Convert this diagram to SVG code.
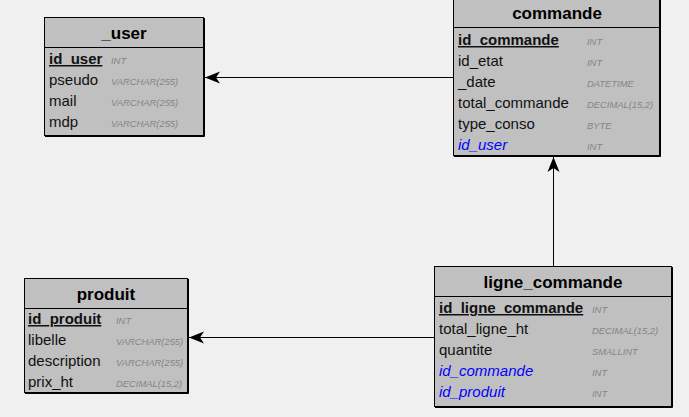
<svg xmlns="http://www.w3.org/2000/svg" width="689" height="417" viewBox="0 0 689 417">
<style>
.bg{fill:#f0f0f0}
.box{fill:#c0c0c0;stroke:#000;stroke-width:1}
.sh{fill:none;stroke:#000;stroke-width:1}
.hd{stroke:#000;stroke-width:1}
.title{font-family:"Liberation Sans",Arial,sans-serif;font-weight:bold;font-size:17px;fill:#000;text-anchor:middle}
.f{font-family:"Liberation Sans",Arial,sans-serif;font-size:15px;fill:#111}
.pk{font-weight:bold;text-decoration:underline}
.fk{fill:#0000ff;font-style:italic}
.t{font-family:"Liberation Sans",Arial,sans-serif;font-size:9.4px;font-style:italic;fill:#858585}
.c{stroke:#000;stroke-width:1;fill:none;marker-end:url(#ah)}
</style>
<defs>
<marker id="ah" markerUnits="userSpaceOnUse" viewBox="-16 -7 17 14" markerWidth="17" markerHeight="14" refX="0" refY="0" orient="auto" overflow="visible">
<path d="M0,0 L-15,-6 L-11,0 L-15,6 Z" fill="#000"/>
</marker>
</defs>
<rect class="bg" x="0" y="0" width="689" height="417"/>
<g id="connectors">
<line class="c" x1="453" y1="77.5" x2="205" y2="77.5"/>
<line class="c" x1="553.5" y1="266" x2="553.5" y2="157"/>
<line class="c" x1="434" y1="337.5" x2="189" y2="337.5"/>
</g>
<g id="user">
<rect class="box" x="44.5" y="17.5" width="159" height="118"/>
<polyline class="sh" points="204.5,18 204.5,136.5 45,136.5"/>
<line class="hd" x1="44.5" y1="47.5" x2="203.5" y2="47.5"/>
<text class="title" x="124" y="39">_user</text>
<text class="f pk" x="49" y="64">id_user</text><text class="t" x="111" y="64">INT</text>
<text class="f" x="49" y="85">pseudo</text><text class="t" x="111" y="85">VARCHAR(255)</text>
<text class="f" x="49" y="106">mail</text><text class="t" x="111" y="106">VARCHAR(255)</text>
<text class="f" x="49" y="127">mdp</text><text class="t" x="111" y="127">VARCHAR(255)</text>
</g>
<g id="commande">
<rect class="box" x="453.5" y="-0.5" width="206" height="156"/>
<polyline class="sh" points="660.5,0 660.5,156.5 454,156.5"/>
<line class="hd" x1="453.5" y1="27.5" x2="659.5" y2="27.5"/>
<text class="title" x="557" y="19">commande</text>
<text class="f pk" x="458" y="45">id_commande</text><text class="t" x="587" y="45">INT</text>
<text class="f" x="458" y="66">id_etat</text><text class="t" x="587" y="66">INT</text>
<text class="f" x="458" y="87">_date</text><text class="t" x="587" y="87">DATETIME</text>
<text class="f" x="458" y="108">total_commande</text><text class="t" x="587" y="108">DECIMAL(15,2)</text>
<text class="f" x="458" y="129">type_conso</text><text class="t" x="587" y="129">BYTE</text>
<text class="f fk" x="458" y="150">id_user</text><text class="t" x="587" y="150">INT</text>
</g>
<g id="produit">
<rect class="box" x="24.5" y="278.5" width="163" height="114"/>
<polyline class="sh" points="188.5,279 188.5,393.5 25,393.5"/>
<line class="hd" x1="24.5" y1="308.5" x2="187.5" y2="308.5"/>
<text class="title" x="106" y="300">produit</text>
<text class="f pk" x="28" y="324">id_produit</text><text class="t" x="116" y="324">INT</text>
<text class="f" x="28" y="345">libelle</text><text class="t" x="116" y="345">VARCHAR(255)</text>
<text class="f" x="28" y="366">description</text><text class="t" x="116" y="366">VARCHAR(255)</text>
<text class="f" x="28" y="387">prix_ht</text><text class="t" x="116" y="387">DECIMAL(15,2)</text>
</g>
<g id="ligne_commande">
<rect class="box" x="434.5" y="266.5" width="237" height="140"/>
<polyline class="sh" points="672.5,267 672.5,407.5 435,407.5"/>
<line class="hd" x1="434.5" y1="296.5" x2="671.5" y2="296.5"/>
<text class="title" x="553" y="288">ligne_commande</text>
<text class="f pk" x="439" y="313">id_ligne_commande</text><text class="t" x="592" y="313">INT</text>
<text class="f" x="439" y="334">total_ligne_ht</text><text class="t" x="592" y="334">DECIMAL(15,2)</text>
<text class="f" x="439" y="355">quantite</text><text class="t" x="592" y="355">SMALLINT</text>
<text class="f fk" x="439" y="376">id_commande</text><text class="t" x="592" y="376">INT</text>
<text class="f fk" x="439" y="397">id_produit</text><text class="t" x="592" y="397">INT</text>
</g>
</svg>
